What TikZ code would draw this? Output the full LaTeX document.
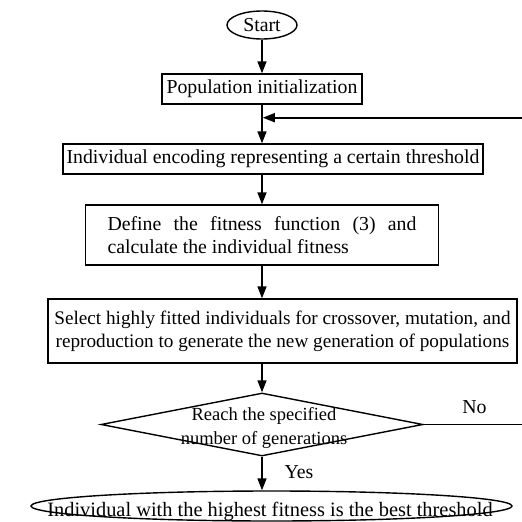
\documentclass[tikz,border=0pt]{standalone}
\usepackage{fontspec}
\setmainfont{Liberation Serif}
\usetikzlibrary{arrows.meta,shapes.geometric}
\begin{document}
\begin{tikzpicture}[x=1pt,y=-1pt,
  every node/.style={font=\fontsize{19.8}{23}\selectfont, inner sep=0pt},
  procbox/.style={draw, line width=1.4pt, rectangle, minimum height=30pt},
  termin/.style={draw, line width=1.4pt, ellipse},
  decide/.style={draw, line width=1.4pt, diamond},
  flow/.style={line width=1.6pt, -{Triangle[length=12pt,width=9pt]}}]
\useasboundingbox (0,0) rectangle (522,522);
\node[termin, minimum width=70pt, minimum height=28pt] (start) at (262,25) {Start};
\node[procbox, minimum width=200pt] (pop) at (262,89) {Population initialization};
\node[procbox, minimum width=420pt] (enc) at (273,159) {Individual encoding representing a certain threshold};
\node[procbox, minimum width=353pt, minimum height=60pt] (fit) at (262,235) {\parbox{309pt}{Define the fitness function (3) and\linebreak calculate the individual fitness}};
\node[procbox, minimum width=469pt, minimum height=64pt, align=center, font=\fontsize{19.2}{23}\selectfont] (sel) at (282.5,331) {Select highly fitted individuals for crossover, mutation, and\\reproduction to generate the new generation of populations};
\node[decide, minimum width=322pt, minimum height=63pt] (dec) at (262,424.5) {};
\node[font=\fontsize{18.5}{24}\selectfont, align=center] (dtext) at (264,428) {Reach the specified\\number of generations};
\node[termin, minimum width=481pt, minimum height=30pt] (fin) at (271.5,506) {};
\node[anchor=base, font=\fontsize{20.4}{23}\selectfont] (fintext) at (270,516.5) {Individual with the highest fitness is the best threshold};
\node (yes) at (299,472) {Yes};
\node (no) at (474.5,407.5) {No};
\coordinate (fbr) at (535,117.7);
\coordinate (fbl) at ([xshift=0.8pt]pop.south |- fbr);
\draw[flow] (start) -- (pop);
\draw[flow] (pop.south) -- (pop.south |- enc.north);
\draw[flow] (dec.east) -- (dec.east -| fbr) -- (fbr) -- (fbl);
\draw[flow] (pop.south |- enc.south) -- (pop.south |- fit.north);
\draw[flow] (fit.south) -- (fit.south |- sel.north);
\draw[flow] (fit.south |- sel.south) -- (dec.north);
\draw[flow] (dec.south) -- (dec.south |- fin.north);
\end{tikzpicture}
\end{document}
